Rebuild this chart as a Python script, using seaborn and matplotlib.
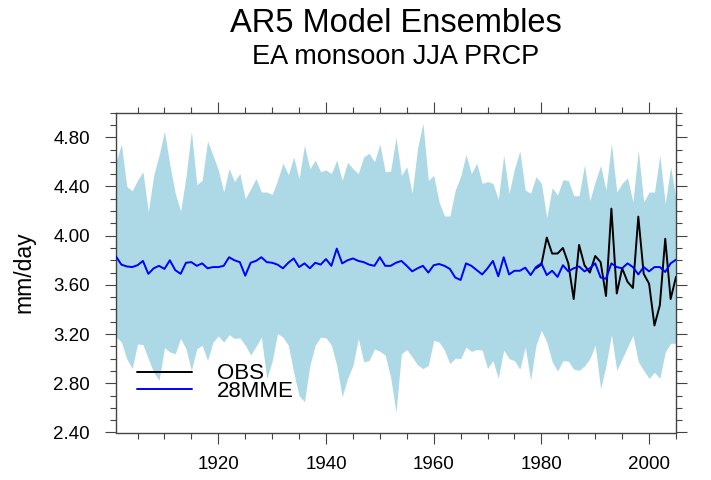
import matplotlib
matplotlib.use("Agg")
import matplotlib.pyplot as plt
import seaborn as sns
import pandas as pd
from matplotlib.ticker import FixedLocator, MultipleLocator

# ---------------- data ----------------
years = list(range(1901, 2006))

band_upper = [
    4.60, 4.745, 4.40, 4.365, 4.45, 4.52, 4.195, 4.49, 4.655, 4.85, 4.575, 4.345, 4.20, 4.48,
    4.85, 4.415, 4.45, 4.77, 4.655, 4.535, 4.355, 4.545, 4.44, 4.505, 4.30, 4.38, 4.465,
    4.355, 4.355, 4.335, 4.45, 4.59, 4.495, 4.64, 4.465, 4.735, 4.545, 4.615, 4.52, 4.535,
    4.505, 4.615, 4.45, 4.595, 4.545, 4.505, 4.64, 4.67, 4.60, 4.745, 4.52, 4.525, 4.80,
    4.49, 4.56, 4.345, 4.71, 4.915, 4.45, 4.49, 4.275, 4.16, 4.16, 4.37, 4.48, 4.66,
    4.505, 4.59, 4.425, 4.44, 4.425, 4.295, 4.655, 4.345, 4.545, 4.69, 4.37, 4.345, 4.48,
    4.425, 4.145, 4.39, 4.33, 4.455, 4.45, 4.325, 4.325, 4.575, 4.285, 4.44, 4.57, 4.37,
    4.75, 4.355, 4.425, 4.47, 4.275, 4.695, 4.275, 4.355, 4.355, 4.655, 4.26, 4.56, 4.30,
]

band_lower = [
    3.18, 3.135, 3.00, 2.92, 3.12, 3.115, 3.00, 2.89, 2.825, 3.09, 3.055, 3.04, 3.165, 3.08,
    2.905, 3.08, 3.11, 2.985, 3.135, 3.185, 3.135, 3.195, 3.165, 3.17, 3.11, 3.03, 3.10,
    3.175, 2.84, 2.98, 3.205, 3.175, 3.11, 2.89, 2.70, 2.65, 2.945, 3.11, 3.175, 3.17,
    3.11, 2.945, 2.69, 2.84, 2.945, 3.165, 2.975, 2.985, 3.08, 3.06, 3.03, 2.85, 2.565,
    3.04, 3.075, 3.015, 2.95, 2.92, 2.945, 3.15, 3.135, 3.07, 2.96, 3.005, 3.00, 3.095,
    3.06, 3.075, 3.07, 2.92, 2.985, 2.84, 3.07, 3.00, 2.985, 2.915, 3.095, 2.825, 3.11,
    3.23, 3.135, 2.975, 2.90, 2.985, 2.98, 2.915, 2.905, 2.94, 3.00, 3.11, 2.755, 2.945,
    3.195, 2.905, 3.00, 3.095, 3.19, 2.975, 2.905, 2.84, 2.89, 2.84, 3.055, 3.125, 3.125,
]

mme = [
    3.83, 3.765, 3.75, 3.745, 3.76, 3.795, 3.69, 3.735, 3.755, 3.73, 3.80, 3.72, 3.69, 3.78,
    3.785, 3.755, 3.775, 3.735, 3.745, 3.745, 3.755, 3.825, 3.80, 3.785, 3.675, 3.78, 3.795,
    3.825, 3.785, 3.78, 3.765, 3.735, 3.78, 3.815, 3.745, 3.775, 3.735, 3.78, 3.765, 3.81,
    3.755, 3.895, 3.775, 3.80, 3.815, 3.795, 3.785, 3.765, 3.755, 3.825, 3.755, 3.755, 3.78,
    3.795, 3.755, 3.71, 3.735, 3.755, 3.70, 3.76, 3.77, 3.755, 3.73, 3.66, 3.64, 3.775,
    3.755, 3.72, 3.685, 3.735, 3.795, 3.67, 3.825, 3.685, 3.715, 3.715, 3.74, 3.68, 3.745,
    3.775, 3.68, 3.715, 3.665, 3.76, 3.71, 3.735, 3.75, 3.71, 3.735, 3.775, 3.66, 3.65,
    3.775, 3.745, 3.735, 3.775, 3.745, 3.685, 3.745, 3.71, 3.745, 3.745, 3.705, 3.775, 3.805,
]

obs_years = list(range(1979, 2006))
obs = [
    3.735, 3.765, 3.985, 3.855, 3.855, 3.90, 3.775, 3.485, 3.925, 3.76, 3.70, 3.835, 3.785,
    3.51, 4.22, 3.53, 3.735, 3.625, 3.575, 4.155, 3.69, 3.61, 3.27, 3.435, 3.975, 3.485, 3.665,
]

xticks = [1920, 1940, 1960, 1980, 2000]
xtick_labels = ["1920", "1940", "1960", "1980", "2000"]
yticks = [2.4, 2.8, 3.2, 3.6, 4.0, 4.4, 4.8]
ytick_labels = ["2.40", "2.80", "3.20", "3.60", "4.00", "4.40", "4.80"]

title = "AR5 Model Ensembles"
subtitle = "EA monsoon JJA PRCP"
ylabel = "mm/day"
series_names = ["OBS", "28MME"]

# ---------------- style ----------------
sns.set_theme(style="white")
plt.rcParams["font.family"] = ["Liberation Sans", "DejaVu Sans"]
plt.rcParams["text.color"] = "black"
plt.rcParams["axes.labelcolor"] = "black"
plt.rcParams["xtick.color"] = "black"
plt.rcParams["ytick.color"] = "black"

df_model = pd.DataFrame({"year": years, "upper": band_upper, "lower": band_lower, "mme": mme})
df_obs = pd.DataFrame({"year": obs_years, "obs": obs})

fig = plt.figure(figsize=(7.11, 4.80), dpi=100)
ax = fig.add_axes([116 / 711, 1 - 432.5 / 480, 560 / 711, 319.8 / 480])
ax.set_facecolor("white")

ax.fill_between(df_model["year"], df_model["lower"], df_model["upper"],
                color="#ADD8E6", linewidth=0, zorder=1)

sns.lineplot(data=df_obs, x="year", y="obs", ax=ax, color="black", linewidth=1.4,
             label=series_names[0], zorder=3)
sns.lineplot(data=df_model, x="year", y="mme", ax=ax, color="blue", linewidth=1.4,
             label=series_names[1], zorder=4)

ax.set_xlim(1901, 2005)
ax.set_ylim(2.4, 5.0)

ax.xaxis.set_major_locator(FixedLocator(xticks))
ax.set_xticklabels(xtick_labels)
ax.xaxis.set_minor_locator(MultipleLocator(5))
ax.yaxis.set_major_locator(FixedLocator(yticks))
ax.set_yticklabels(ytick_labels)
ax.yaxis.set_minor_locator(MultipleLocator(0.1))

frame_col = "#444444"
for sp in ax.spines.values():
    sp.set_visible(True)
    sp.set_color(frame_col)
    sp.set_linewidth(1.0)

ax.tick_params(which="both", direction="out", top=True, right=True, bottom=True, left=True,
               labeltop=False, labelright=False, color=frame_col, width=0.8,
               labelsize=13.5, labelcolor="black")
ax.tick_params(which="major", length=8.2)
ax.tick_params(which="minor", length=4.3)
ax.tick_params(axis="x", which="major", pad=9)
ax.tick_params(axis="y", which="major", pad=10.5)

ax.set_xlabel("")
ax.set_ylabel(ylabel, fontsize=16.5, va="center", color="black")
ax.yaxis.set_label_coords(-0.164, 0.5)

leg = ax.legend(loc="upper left", bbox_to_anchor=(0.0375, 0.216), frameon=False,
                fontsize=16, handlelength=2.48, handletextpad=1.13, labelspacing=-0.15,
                borderpad=0, borderaxespad=0)
for t in leg.get_texts():
    t.set_color("black")

cx = 396 / 711
fig.text(cx, 1 - 31.7 / 480, title, ha="center", va="baseline", fontsize=23.5, color="black")
fig.text(cx, 1 - 64.5 / 480, subtitle, ha="center", va="baseline", fontsize=19.5, color="black")

fig.savefig("out.png", dpi=100)
